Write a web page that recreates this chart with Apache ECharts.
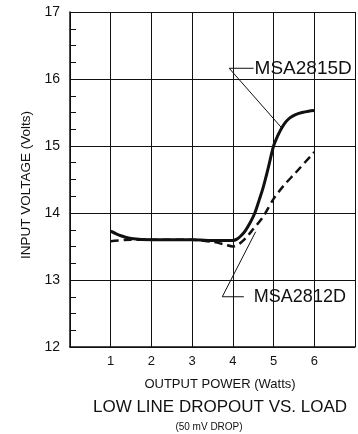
<!DOCTYPE html>
<html>
<head>
<meta charset="utf-8">
<script src="https://cdn.jsdelivr.net/npm/echarts@6/dist/echarts.min.js"></script>
<style>
  html, body { margin: 0; padding: 0; background: #fff; }
  #chart { width: 358px; height: 434px; }
</style>
</head>
<body>
<div id="chart"></div>
<script>
// x ticks shown on the axis (Watts)
var xTicks = [1, 2, 3, 4, 5, 6];

// MSA2815D - solid curve  [watts, volts]
var msa2815 = [
  [1, 13.73], [1.25, 13.66], [1.5, 13.62], [2, 13.6], [3, 13.6], [3.6, 13.59],
  [4.0, 13.59], [4.1, 13.61], [4.2, 13.66], [4.3, 13.73], [4.42, 13.85],
  [4.54, 14.0], [4.65, 14.2], [4.74, 14.37], [4.86, 14.65], [5.0, 15.0],
  [5.1, 15.15], [5.2, 15.27], [5.3, 15.36], [5.4, 15.42], [5.54, 15.47],
  [5.7, 15.5], [5.86, 15.52], [6, 15.53]
];

// MSA2812D - dashed curve
var msa2812 = [
  [1, 13.58], [1.5, 13.6], [2, 13.6], [3, 13.6], [3.5, 13.57], [3.8, 13.53],
  [4.0, 13.5], [4.1, 13.52], [4.2, 13.56], [4.34, 13.64], [4.5, 13.76],
  [4.74, 13.94], [5.0, 14.21], [5.25, 14.41], [5.54, 14.6], [6, 14.91]
];

// callout leaders: text start, elbow, point on the curve
var label2815 = [[4.51, 16.16], [3.91, 16.16], [5.2, 15.27]];
var label2812 = [[4.27, 12.75], [3.74, 12.75], [4.56, 13.72]];

var font = 'Liberation Sans, Arial, Helvetica, sans-serif';
var ink = '#111';

var chart = echarts.init(document.getElementById('chart'), null, { renderer: 'canvas' });

// a thin polyline with the name written to the right of its first point
function leader(points, text, size, gap) {
  return {
    type: 'line',
    data: points,
    silent: true,
    symbol: 'none',
    lineStyle: { color: ink, width: 1 },
    z: 1,
    markPoint: {
      symbol: 'circle',
      symbolSize: 0,
      data: [{ coord: points[0] }],
      label: {
        show: true,
        position: 'right',
        distance: gap,
        formatter: text,
        color: ink,
        fontSize: size,
        fontFamily: font
      }
    }
  };
}

function caption(text, x, y, size, rot) {
  return {
    type: 'text',
    x: x, y: y,
    rotation: rot || 0,
    style: {
      text: text, fill: ink, font: size + 'px ' + font,
      textAlign: 'center', textVerticalAlign: 'middle'
    }
  };
}

var option = {
  backgroundColor: '#fff',
  animation: false,
  graphic: [
    caption('INPUT VOLTAGE (Volts)', 26, 185, 13.5, Math.PI / 2),
    caption('OUTPUT POWER (Watts)', 220, 384, 13),
    caption('LOW LINE DROPOUT VS. LOAD', 220, 407, 17),
    caption('(50 mV DROP)', 209, 427, 10)
  ],
  grid: { left: 70, right: -3, top: 12, bottom: 87 },
  xAxis: {
    type: 'value',
    min: 0, max: 7, interval: 1,
    axisLine: { show: true, lineStyle: { color: ink, width: 1.5 } },
    axisTick: { show: false },
    axisLabel: {
      color: ink, fontSize: 13, fontFamily: font, margin: 8,
      formatter: function (v) { return xTicks.indexOf(v) >= 0 ? String(v) : ''; }
    },
    splitLine: { show: true, lineStyle: { color: ink, width: 1 } }
  },
  yAxis: {
    type: 'value',
    min: 12, max: 17, interval: 1,
    axisLine: { show: true, lineStyle: { color: ink, width: 1.5 } },
    axisTick: { show: false },
    minorTick: { show: true, splitNumber: 4, length: -6, lineStyle: { color: ink, width: 1 } },
    axisLabel: { color: ink, fontSize: 14, fontFamily: font, margin: 10 },
    splitLine: { show: true, lineStyle: { color: ink, width: 1 } }
  },
  series: [
    {
      name: 'MSA2815D',
      type: 'line',
      data: msa2815,
      smooth: 0.3,
      symbol: 'none',
      lineStyle: { color: ink, width: 3 },
      z: 3
    },
    {
      name: 'MSA2812D',
      type: 'line',
      data: msa2812,
      smooth: 0.3,
      symbol: 'none',
      lineStyle: { color: ink, width: 2.5, type: [8, 5] },
      z: 3
    },
    leader(label2815, 'MSA2815D', 19, 1),
    leader(label2812, 'MSA2812D', 18, 10)
  ]
};

chart.setOption(option);
</script>
</body>
</html>
